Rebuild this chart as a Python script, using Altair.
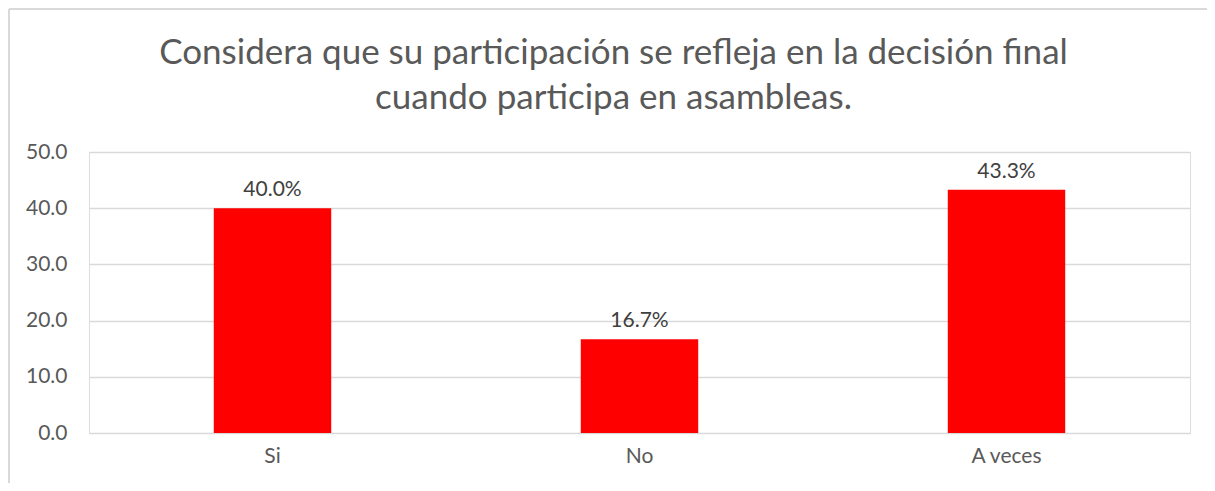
import altair as alt
import pandas as pd

categories = ["Si", "No", "A veces"]
values = [40.0, 16.7, 43.3]
labels = ["40.0%", "16.7%", "43.3%"]
y_ticks = [0, 10, 20, 30, 40, 50]
title_lines = ["Considera que su participación se refleja en la decisión final",
               "cuando participa en asambleas."]

df = pd.DataFrame({"cat": categories, "val": values, "lab": labels})

FONT = "Lato"
GRAY = "#595959"
FS = 21

base = alt.Chart(df).encode(
    x=alt.X("cat:N", sort=categories, title=None,
            scale=alt.Scale(paddingInner=0.68, paddingOuter=0.34),
            axis=alt.Axis(labelAngle=0, ticks=False, domain=False, labelPadding=12,
                          labelFontSize=FS, labelColor=GRAY, labelFont=FONT)),
)

bars = base.mark_bar(color="#ff0000").encode(
    y=alt.Y("val:Q", title=None,
            scale=alt.Scale(domain=[0, 50], nice=False),
            axis=alt.Axis(values=y_ticks, format=".1f", ticks=False, domain=False,
                          labelPadding=22, labelFontSize=FS, labelColor=GRAY,
                          labelFont=FONT, gridColor="#d9d9d9", gridWidth=1.5)),
)

text = base.mark_text(baseline="bottom", dy=-8, fontSize=FS, color="#404040", font=FONT).encode(
    y="val:Q", text="lab:N"
)

frame_df = pd.DataFrame({"f": [0]})
left_edge = alt.Chart(frame_df).mark_rule(color="#d9d9d9", strokeWidth=2).encode(
    x=alt.value(-80), y=alt.value(-143), y2=alt.value(400))
top_edge = alt.Chart(frame_df).mark_rule(color="#d9d9d9", strokeWidth=2).encode(
    x=alt.value(-80), x2=alt.value(1118), y=alt.value(-143))

chart = (left_edge + top_edge + bars + text).properties(
    width=1101, height=281,
    title=alt.TitleParams(text=title_lines, fontSize=35, font=FONT, color=GRAY,
                          fontWeight="normal", anchor="middle", dx=-26, dy=136,
                          offset=28, lineHeight=45),
    autosize=alt.AutoSizeParams(type="none"),
    padding={"left": 81, "top": 144, "right": 17, "bottom": 50},
).configure_view(stroke=None).configure(background="white")

chart.save("out.html", embed_options={"renderer": "svg", "actions": False})
